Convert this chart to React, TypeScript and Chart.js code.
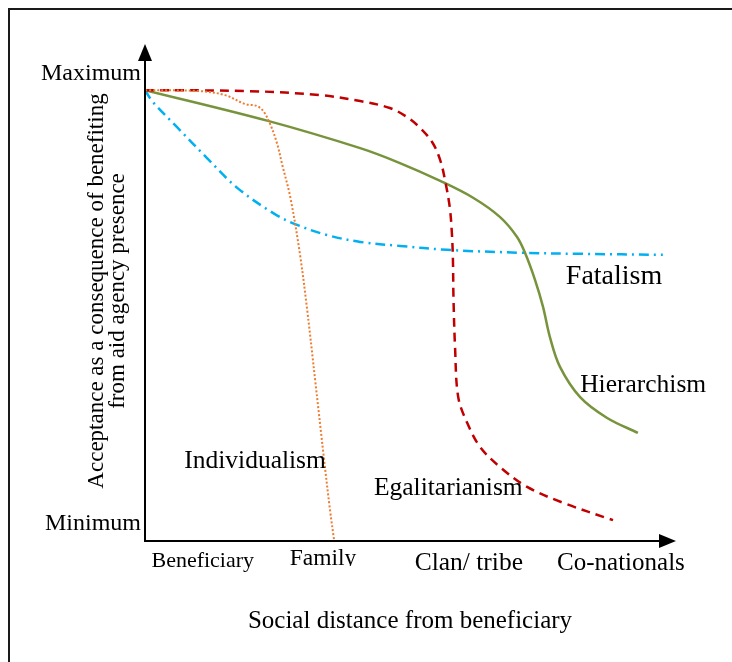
import { useEffect, useRef } from "react";
import { Chart, registerables } from "chart.js";

Chart.register(...registerables);

// Social distance (0 = beneficiary, 100 = end of axis) vs acceptance (0 = axis origin, 100 = top of axis)
const individualismX = [0, 10.4, 15.1, 18.9, 21.1, 22.3, 23.6, 24.9, 26.0, 27.4, 29.2, 30.6, 32.1, 33.8, 34.9, 35.7];
const individualismY = [90.9, 90.7, 89.9, 88.1, 87.7, 86.7, 84.1, 80.2, 75.4, 69.4, 58.1, 46.6, 32.5, 16.3, 6.3, 0];

const egalitarianismX = [0, 19.8, 33.0, 40.6, 46.2, 49.4, 51.9, 54.2, 55.7, 56.6, 57.5, 57.9, 58.1, 58.2, 58.5, 59.1, 60.8, 63.2, 67.0, 72.1, 78.9, 88.3];
const egalitarianismY = [90.9, 90.7, 89.9, 88.7, 87.3, 85.5, 83.3, 80.4, 76.8, 72.8, 67.3, 62.1, 56.7, 49.2, 39.1, 29.0, 23.8, 19.0, 14.9, 10.9, 7.7, 4.2];

const hierarchismX = [0, 23.2, 40.6, 48.1, 55.7, 61.9, 67.0, 70.2, 71.7, 73.6, 75.1, 76.4, 78.3, 82.1, 87.2, 93.0];
const hierarchismY = [90.9, 84.7, 79.2, 76.2, 72.6, 69.2, 65.3, 61.3, 58.1, 52.6, 47.2, 41.1, 35.1, 29.0, 24.8, 21.8];

const fatalismX = [0, 1.5, 6.0, 11.7, 17.4, 24.2, 28.3, 34.3, 40.6, 48.1, 57.0, 71.3, 82.1, 97.7];
const fatalismY = [90.9, 88.5, 83.5, 77.2, 71.2, 66.1, 63.9, 61.7, 60.3, 59.5, 58.7, 58.1, 57.9, 57.7];

const xCategories = ["Beneficiary", "Family", "Clan/ tribe", "Co-nationals"];
const xCategoryPositions = [10.9, 33.6, 61.1, 89.8];

const yLevels = ["Maximum", "Minimum"];
const yLevelValues = [94.6, 3.8];

const seriesNames = ["Individualism", "Egalitarianism", "Hierarchism", "Fatalism"];
const seriesLabelX = [7.4, 43.2, 82.1, 79.4];
const seriesLabelY = [14.7, 9.3, 30.0, 51.8];

const yTitleLines = ["Acceptance as a consequence of benefiting", "from aid agency presence"];
const xTitle = "Social distance from beneficiary";

const zip = (xs: number[], ys: number[]) => xs.map((x, i) => ({ x, y: ys[i] }));

const FONT = "'Liberation Serif', 'Times New Roman', serif";

const overlay = {
  id: "overlay",
  afterDatasetsDraw(chart: any) {
    const { ctx, chartArea: ca, scales } = chart;
    const xs = scales.x;
    const ys = scales.y;
    const W = chart.width;
    const H = chart.height;
    ctx.save();

    // outer frame (left and top visible)
    ctx.strokeStyle = "#1a1a1a";
    ctx.lineWidth = 2;
    ctx.beginPath();
    ctx.moveTo(9, H + 2);
    ctx.lineTo(9, 9);
    ctx.lineTo(W + 2, 9);
    ctx.stroke();

    // axes with arrows
    ctx.strokeStyle = "#000";
    ctx.fillStyle = "#000";
    ctx.lineWidth = 2;
    ctx.beginPath();
    ctx.moveTo(ca.left, ca.bottom + 1);
    ctx.lineTo(ca.left, ca.top + 14);
    ctx.moveTo(ca.left - 1, ca.bottom);
    ctx.lineTo(ca.right - 14, ca.bottom);
    ctx.stroke();
    ctx.beginPath();
    ctx.moveTo(ca.left, ca.top - 1);
    ctx.lineTo(ca.left - 7, ca.top + 16);
    ctx.lineTo(ca.left + 7, ca.top + 16);
    ctx.closePath();
    ctx.fill();
    ctx.beginPath();
    ctx.moveTo(ca.right + 1, ca.bottom);
    ctx.lineTo(ca.right - 16, ca.bottom - 7);
    ctx.lineTo(ca.right - 16, ca.bottom + 7);
    ctx.closePath();
    ctx.fill();

    // y levels
    ctx.textBaseline = "alphabetic";
    ctx.textAlign = "right";
    ctx.font = `24px ${FONT}`;
    yLevels.forEach((t, i) => {
      ctx.fillText(t, ca.left - 4, ys.getPixelForValue(yLevelValues[i]) + 8);
    });

    // x categories
    const tickSizes = [22, 23.5, 25.5, 25];
    const tickOffsets = [26, 24, 29, 29];
    ctx.textAlign = "center";
    xCategories.forEach((t, i) => {
      const px = xs.getPixelForValue(xCategoryPositions[i]);
      const base = ca.bottom + tickOffsets[i];
      ctx.font = `${tickSizes[i]}px ${FONT}`;
      if (i === 1) {
        ctx.save();
        ctx.beginPath();
        ctx.rect(px - 60, base - 40, 120, 41);
        ctx.clip();
        ctx.fillText(t, px, base);
        ctx.restore();
      } else {
        ctx.fillText(t, px, base);
      }
    });

    // x title
    ctx.font = `25px ${FONT}`;
    ctx.fillText(xTitle, (ca.left + ca.right) / 2, ca.bottom + 87);

    // y title (rotated)
    ctx.font = `23px ${FONT}`;
    const yMid = ca.top + 246;
    const baseXs = [ca.left - 42, ca.left - 21];
    yTitleLines.forEach((t, i) => {
      ctx.save();
      ctx.translate(baseXs[i], yMid);
      ctx.rotate(-Math.PI / 2);
      ctx.textAlign = "center";
      ctx.fillText(t, 0, 0);
      ctx.restore();
    });

    // series labels
    const labelSizes = [25.5, 25.5, 25.5, 28];
    ctx.textAlign = "left";
    seriesNames.forEach((t, i) => {
      ctx.font = `${labelSizes[i]}px ${FONT}`;
      ctx.fillText(t, xs.getPixelForValue(seriesLabelX[i]), ys.getPixelForValue(seriesLabelY[i]));
    });

    ctx.restore();
  },
};

export default function App() {
  const ref = useRef<HTMLCanvasElement | null>(null);
  useEffect(() => {
    if (!ref.current) return;
    const common = {
      pointRadius: 0,
      fill: false,
      tension: 0.35,
    };
    const chart = new Chart(ref.current, {
      type: "line",
      data: {
        datasets: [
          { ...common, label: seriesNames[0], data: zip(individualismX, individualismY), borderColor: "#ED7D31", borderWidth: 2, borderDash: [2, 2] },
          { ...common, label: seriesNames[1], data: zip(egalitarianismX, egalitarianismY), borderColor: "#C00000", borderWidth: 2.5, borderDash: [9, 6] },
          { ...common, label: seriesNames[2], data: zip(hierarchismX, hierarchismY), borderColor: "#77933C", borderWidth: 2.5 },
          { ...common, label: seriesNames[3], data: zip(fatalismX, fatalismY), borderColor: "#00B0F0", borderWidth: 2.5, borderDash: [10, 5, 2, 5] },
        ],
      },
      options: {
        responsive: false,
        animation: false,
        layout: { padding: { left: 145, right: 57, top: 45, bottom: 121 } },
        plugins: { legend: { display: false }, tooltip: { enabled: false } },
        scales: {
          x: { type: "linear", min: 0, max: 100, display: false },
          y: { type: "linear", min: 0, max: 100, display: false },
        },
      },
      plugins: [overlay],
    });
    return () => chart.destroy();
  }, []);
  return (
    <div style={{ position: "absolute", left: 0, top: 0, width: 732, height: 662, background: "#fff" }}>
      <canvas ref={ref} width={732} height={662} style={{ display: "block" }} />
    </div>
  );
}
